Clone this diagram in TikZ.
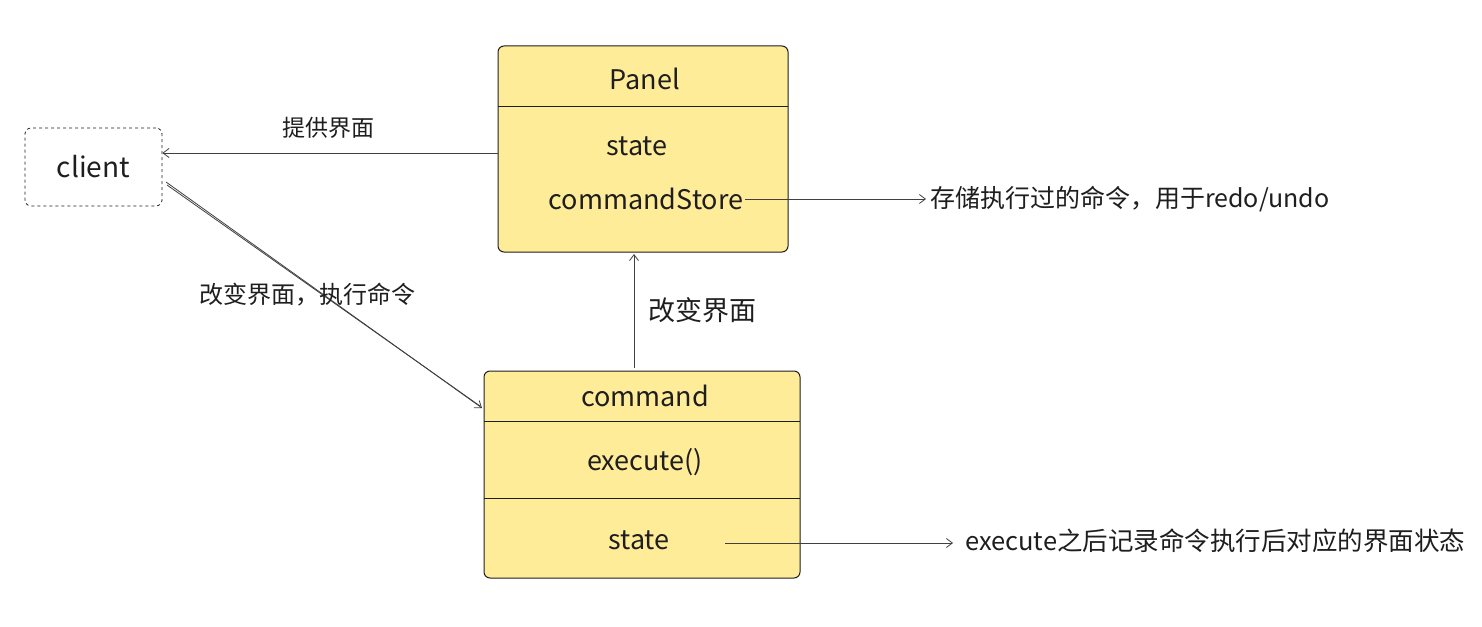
\documentclass[tikz,border=0pt]{standalone}
\usepackage{fontspec}
\setmainfont{Noto Sans CJK SC}
\usetikzlibrary{arrows.meta}
\definecolor{boxfill}{HTML}{FFEC99}
\definecolor{ink}{HTML}{1E1E1E}
\tikzset{
  umlbox/.style={draw=ink, fill=boxfill, rounded corners=6pt, line width=1pt},
  clientbox/.style={draw=ink, dashed, rounded corners=6pt, line width=0.8pt, minimum width=137pt, minimum height=78pt},
  boxtext/.style={font=\fontsize{27}{29}\selectfont, text=ink},
  lbl/.style={font=\fontsize{23}{26}\selectfont, text=ink, inner sep=0pt},
  conn/.style={draw=ink!85, line width=0.8pt, -{Straight Barb[length=6pt,width=9pt]}},
}
\begin{document}
\begin{tikzpicture}[x=1pt,y=-1pt]
\useasboundingbox (0,0) rectangle (1482,626);
% Panel box
\draw[umlbox] (498,46) rectangle (788,252);
\draw[ink, line width=0.9pt] (498,106) -- (788,106);
\node[boxtext] (panelT) at (645,79) {Panel};
\node[boxtext] (pstate) at (637,146) {state};
\node[boxtext, inner sep=2pt] (pstore) at (646,199) {commandStore};
\coordinate (panelL) at (498,153);
\coordinate (panelB) at (634,254);
% client
\node[clientbox] (client) at (93.5,167) {};
\node[boxtext, font=\fontsize{28}{30}\selectfont] at (client) {client};
% command box
\draw[umlbox] (484,371) rectangle (800,578);
\draw[ink, line width=0.9pt] (484,421) -- (800,421);
\draw[ink, line width=0.9pt] (484,498) -- (800,498);
\node[boxtext] (cmdT) at (645,396) {command};
\node[boxtext] (exec) at (645,462) {execute()};
\node[boxtext] (cstate) at (639,540) {state};
\coordinate (cmdTop) at (634,368);
\coordinate (cmdL) at (482,408);
\coordinate (cstateR) at (725,543);
\coordinate (clientR) at (166,182);
\coordinate (clientR2) at (167,185);
\coordinate (cmdL2) at (480,406);
% connectors
\draw[conn] (panelL) -- (client.east |- panelL);
\node[lbl] (l1) at (328,128) {提供界面};
\draw[conn] (clientR) -- (cmdL);
\draw[draw=ink!85, line width=0.8pt] (clientR2) -- (cmdL2);
\node[lbl, anchor=west, font=\fontsize{24}{26}\selectfont] (l2) at (199,295) {改变界面，执行命令};
\draw[conn] (cmdTop) -- (panelB);
\node[lbl, font=\fontsize{27}{30}\selectfont] (l3) at (702,310) {改变界面};
\node[lbl, anchor=west, font=\fontsize{25}{28}\selectfont] (l4) at (930,199) {存储执行过的命令，用于redo/undo};
\draw[conn] (pstore.east) -- ([xshift=-4pt]l4.west);
\node[lbl, anchor=west, font=\fontsize{25.5}{28}\selectfont] (l5) at (965,541) {execute之后记录命令执行后对应的界面状态};
\draw[conn] (cstateR) -- ([xshift=-12pt]l5.west |- cstateR);
\end{tikzpicture}
\end{document}
